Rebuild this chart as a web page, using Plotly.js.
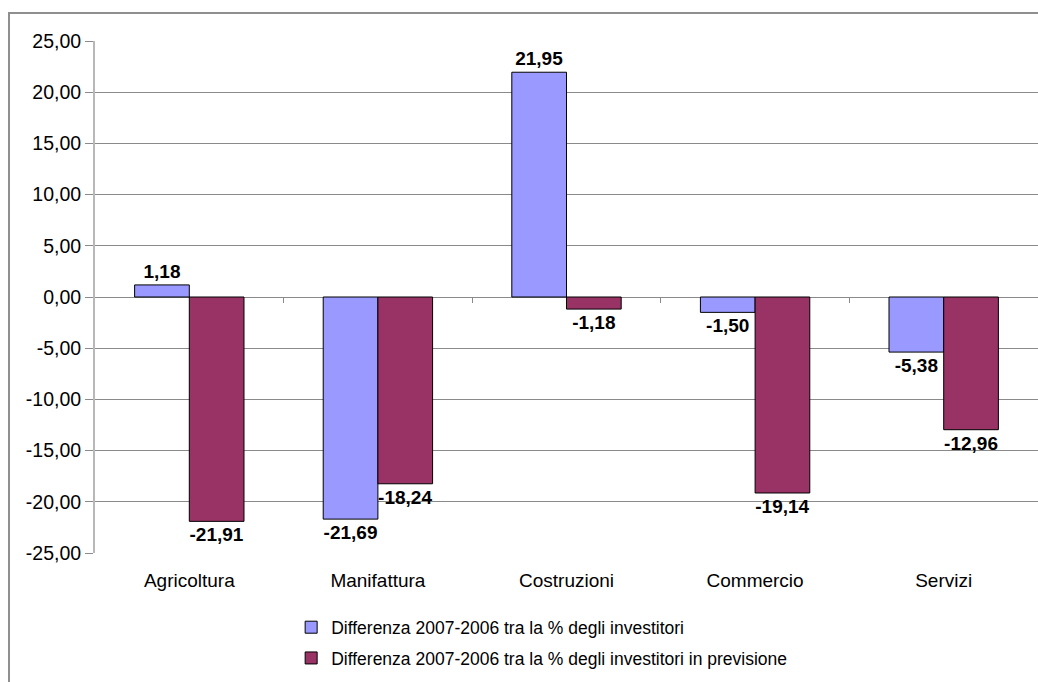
<!DOCTYPE html>
<html>
<head>
<meta charset="utf-8">
<script src="https://cdn.plot.ly/plotly-3.0.1.min.js"></script>
<style>
html,body{margin:0;padding:0;width:1038px;height:682px;overflow:hidden;background:#fff;}
#frame{position:absolute;left:8px;top:12px;width:1100px;height:720px;border:2px solid #8f8f8f;box-sizing:border-box;overflow:hidden;}
#chart{position:absolute;left:0;top:0;width:1040px;height:680px;}
</style>
</head>
<body>
<div id="frame"><div id="chart"></div></div>
<script>
const categories = ["Agricoltura", "Manifattura", "Costruzioni", "Commercio", "Servizi"];
const seriesNames = ["Differenza 2007-2006 tra la % degli investitori", "Differenza 2007-2006 tra la % degli investitori in previsione"];
const investitori = [1.18, -21.69, 21.95, -1.50, -5.38];
const previsione = [-21.91, -18.24, -1.18, -19.14, -12.96];
const yTicks = [25, 20, 15, 10, 5, 0, -5, -10, -15, -20, -25];

const fmt = v => v.toFixed(2).replace(".", ",");
const FONT = "Arial, 'Liberation Sans', sans-serif";
const labelFont = {family: FONT, size: 19, color: "#000"};
function mk(name, vals, color, grp) {
  return {
    type: "bar", name: name, x: categories, y: vals, legendgroup: grp,
    marker: {color: color, line: {color: "#000", width: 1}},
    text: vals.map(fmt), texttemplate: "<b>%{text}</b>", textposition: "outside", textfont: labelFont,
    cliponaxis: false, hoverinfo: "skip"
  };
}
const data = [
  mk(seriesNames[0], investitori, "#9999FF", "a"),
  mk(seriesNames[1], previsione, "#993366", "b"),
  {type: "scatter", mode: "none", x: [], y: [], xaxis: "x2", yaxis: "y", showlegend: false, hoverinfo: "skip"}
];
const layout = {
  width: 1040, height: 680,
  margin: {l: 85, r: 12, t: 27, b: 141},
  paper_bgcolor: "#fff", plot_bgcolor: "#fff",
  separators: ",.",
  barmode: "group", bargap: 0.42, bargroupgap: 0,
  font: {family: FONT, size: 19, color: "#000"},
  xaxis: {type: "category", showgrid: false, zeroline: false, showline: false, ticks: "", tickfont: {size: 19}, ticklabelstandoff: 14},
  xaxis2: {overlaying: "x", anchor: "free", position: 0.5, side: "bottom", range: [-0.5, 4.5],
           tickvals: [0.5, 1.5, 2.5, 3.5], showticklabels: false, ticks: "outside", ticklen: 5, tickcolor: "#8a8a8a",
           showgrid: false, zeroline: false, showline: false},
  yaxis: {range: [-25, 25], tickvals: yTicks, ticktext: yTicks.map(fmt), showgrid: true, gridcolor: "#8a8a8a", gridwidth: 1,
          zeroline: false, showline: true, linecolor: "#b8b8b8", linewidth: 2, ticks: "outside", ticklen: 8, tickcolor: "#8a8a8a", tickfont: {size: 19.5}},
  showlegend: true,
  legend: {orientation: "v", x: 0.208, xanchor: "left", y: -0.11, yanchor: "top", font: {size: 17.5}, traceorder: "grouped", tracegroupgap: 5, itemwidth: 30},
  uniformtext: {mode: false}
};
Plotly.newPlot("chart", data, layout, {displayModeBar: false, staticPlot: true});
</script>
</body>
</html>
